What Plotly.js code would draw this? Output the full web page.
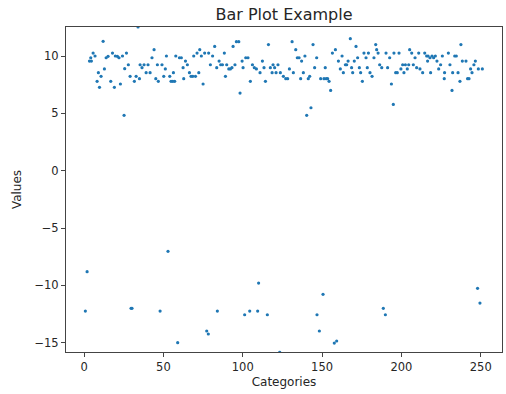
<!DOCTYPE html>
<html>
<head>
<meta charset="utf-8">
<script src="https://cdn.plot.ly/plotly-3.0.1.min.js"></script>
<style>html,body{margin:0;padding:0;background:#fff;}#chart{width:506px;height:394px;}</style>
</head>
<body>
<div id="chart"></div>
<script>
// Upper cluster (x position, value)
const upperX = [3.4,4.2,4.6,5.7,6.9,8.2,9.0,9.7,10.7,12.0,12.8,13.9,15.1,16.8,17.9,19.1,19.7,21.0,22.0,22.9,24.2,25.2,25.6,26.7,27.9,29.0,31.7,32.8,34.0,34.9,35.3,
36.5,37.8,39.1,40.3,41.6,42.8,44.1,45.2,46.2,46.8,49.1,50.2,51.2,51.9,54.0,54.8,55.9,56.3,57.1,57.8,60.1,61.3,62.4,62.8,63.9,65.1,66.4,67.4,68.5,69.1,70.2,71.2,72.3,72.9,73.9,75.0,76.0,78.5,79.6,
81.0,82.3,83.6,85.1,86.1,87.2,88.4,89.1,89.9,91.2,92.2,93.2,93.9,95.1,96.0,97.5,98.3,99.6,100.2,101.9,103.3,104.8,106.1,107.3,108.6,110.9,112.4,113.4,114.3,116.2,117.4,118.5,119.1,120.1,121.0,122.2,123.7,
125.6,127.1,128.3,129.4,131.1,131.9,133.4,134.4,135.5,136.5,137.1,138.2,139.2,140.3,141.3,142.2,143.0,144.3,145.3,146.6,149.1,151.2,152.0,152.6,153.5,154.4,155.4,156.5,158.4,160.3,161.5,162.6,163.4,164.7,165.5,166.4,167.8,
168.6,169.3,170.3,171.4,172.4,173.5,174.3,175.4,176.4,177.7,178.5,179.2,180.2,181.5,182.7,183.8,184.4,185.3,186.3,187.6,190.3,191.3,192.6,193.7,194.9,195.3,196.4,197.4,198.5,199.7,200.8,201.6,202.5,203.7,204.6,205.2,206.5,207.5,208.6,209.6,210.9,211.7,
213.4,214.7,215.9,216.5,216.8,218.0,218.4,219.3,220.3,221.4,222.4,223.5,224.7,225.8,227.0,227.2,229.6,230.6,231.9,232.3,233.6,234.6,235.7,236.9,237.5,238.4,240.7,241.7,242.6,243.6,244.5,245.7,246.6,248.5,251.0];
const upperY = [9.56,9.85,9.56,10.26,10.0,7.79,8.55,7.27,8.23,11.28,8.87,9.85,9.97,7.79,10.26,7.27,10.0,9.97,9.85,7.56,10.0,4.83,8.9,10.26,9.24,8.23,7.79,8.23,12.53,8.02,9.24,
8.98,9.24,8.55,9.24,8.55,9.85,10.55,8.02,9.24,7.79,9.24,8.23,8.87,10.0,8.23,7.79,7.79,8.55,7.79,10.0,9.85,9.85,8.98,8.02,9.56,9.24,8.55,8.23,8.23,10.0,8.23,10.26,8.55,10.55,10.0,7.56,10.26,10.26,9.24,
10.0,10.84,8.98,9.56,9.24,9.24,10.26,8.23,9.24,8.87,8.87,8.98,10.84,9.24,11.25,11.25,6.77,9.56,8.98,9.85,9.85,7.79,9.24,8.98,8.87,8.55,9.56,8.98,7.79,11.0,8.98,8.55,9.24,8.98,8.55,9.24,8.55,
8.23,8.02,8.02,8.87,11.25,8.55,10.55,9.85,9.85,8.02,9.56,8.55,10.0,4.83,8.02,8.23,5.49,11.0,8.98,9.85,8.02,8.02,8.98,8.02,8.02,7.79,7.0,10.26,10.55,9.56,8.87,10.0,8.55,9.24,9.24,9.56,11.51,
8.98,8.55,9.56,10.84,9.85,8.98,8.55,7.79,10.26,9.85,8.98,10.26,8.55,8.23,9.85,11.0,10.55,10.26,9.24,8.98,10.26,8.98,9.85,7.56,5.78,10.26,8.55,8.55,10.26,8.87,9.24,8.55,9.24,8.87,9.24,10.55,10.26,9.24,9.85,8.98,10.26,8.87,
8.55,10.26,10.0,9.56,10.0,9.85,8.55,10.0,9.85,10.0,9.56,8.87,9.24,10.0,8.02,8.55,10.26,9.24,7.0,8.55,10.0,10.0,8.55,7.79,11.0,9.56,9.56,8.02,8.02,8.87,8.55,9.24,9.56,8.87,8.87];
// Lower cluster
const lowerX = [0.8,1.9,29.6,30.2,47.9,52.9,59.0,77.3,78.3,84.0,101.2,104.4,109.4,110.0,115.5,123.3,146.8,148.3,150.6,157.7,159.2,188.6,189.9,248.0,249.5];
const lowerY = [-12.24,-8.81,-12.0,-12.0,-12.24,-7.03,-15.0,-13.98,-14.24,-12.24,-12.56,-12.24,-12.24,-9.8,-12.56,-15.84,-12.56,-13.98,-10.78,-15.03,-14.85,-12.0,-12.56,-10.26,-11.54];

const xTicks = [0,50,100,150,200,250];
const yTicks = [-15,-10,-5,0,5,10];
const yTickText = ['\u221215','\u221210','\u22125','0','5','10'];

const xs = upperX.concat(lowerX);
const ys = upperY.concat(lowerY);

const tickFont = {family:'DejaVu Sans, sans-serif', size:11.5, color:'#262626'};
const labelFont = {family:'DejaVu Sans, sans-serif', size:12, color:'#262626'};
const trace = {x:xs, y:ys, type:'scatter', mode:'markers',
  marker:{color:'#1f77b4', size:3.2, line:{width:0}}, cliponaxis:true, hoverinfo:'none'};
const axisCommon = {showgrid:false, zeroline:false, showline:true, mirror:true, linecolor:'#444', linewidth:1,
  ticks:'outside', ticklen:4, tickwidth:1, tickcolor:'#444', tickfont:tickFont};
const layout = {
  width:506, height:394, margin:{l:66, r:4, t:27, b:42},
  paper_bgcolor:'#fff', plot_bgcolor:'#fff', showlegend:false, font:tickFont,
  title:{text:'Bar Plot Example', font:{family:'DejaVu Sans, sans-serif', size:16, color:'#262626'}, x:0.5, xref:'paper', y:1-14/394, yref:'container', yanchor:'middle'},
  xaxis:Object.assign({}, axisCommon, {range:[-11.4,263.4], tickvals:xTicks, ticktext:xTicks.map(String),
    title:{text:'Categories', font:labelFont, standoff:4}}),
  yaxis:Object.assign({}, axisCommon, {range:[-15.81,12.53], tickvals:yTicks, ticktext:yTickText,
    title:{text:'Values', font:labelFont, standoff:10}})
};
Plotly.newPlot('chart', [trace], layout, {staticPlot:true, displayModeBar:false});
</script>
</body>
</html>
